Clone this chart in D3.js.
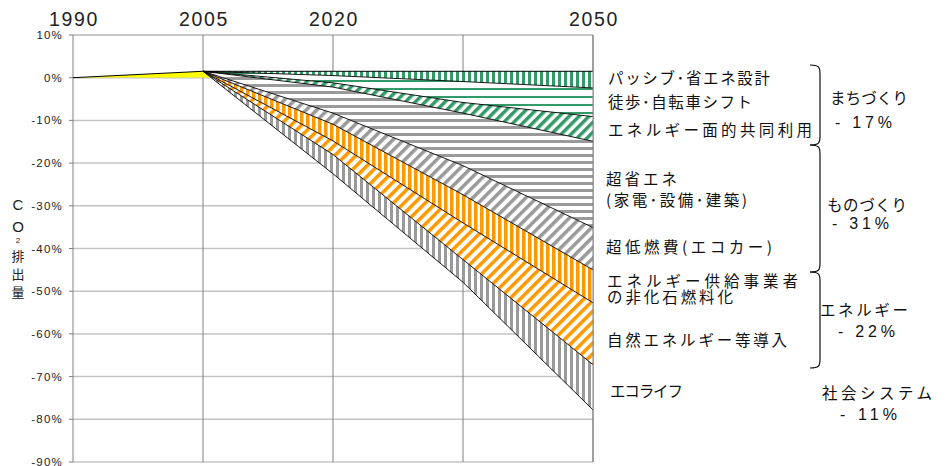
<!DOCTYPE html>
<html><head><meta charset="utf-8">
<script src="https://cdn.jsdelivr.net/npm/d3@7"></script>
<style>body{margin:0;background:#fff} svg{display:block}</style>
</head><body><svg id="c" width="946" height="466"></svg>
<script>
// ---- data (percent change of CO2 vs 1990) ----
const years = [1990, 2005, 2020, 2035, 2050];
const emissionBAU = [0, 1.5, 1.5, 1.5, 1.5];
const passive      = [0, 0, 1.0, 2.4, 3.9];
const walkBike     = [0, 0, 1.7, 4.9, 6.7];
const districtEn   = [0, 0, 1.0, 2.5, 5.8];
const superSaving  = [0, 0, 6.1, 12.3, 20.2];
const ecoCar       = [0, 0, 2.6, 6.8, 9.9];
const nonFossil    = [0, 0, 3.9, 6.6, 7.7];
const renewable    = [0, 0, 3.2, 8.6, 14.5];
const ecoLife      = [0, 0, 4.5, 5.3, 10.6];
const yTickValues = [10, 0, -10, -20, -30, -40, -50, -60, -70, -80, -90];
const xLabelYears = [1990, 2005, 2020, 2050];
const xGridYears = [1990, 2005, 2020, 2035, 2050];
const measureLabels = [
  ["パッシブ･省エネ設計"], ["徒歩･自転車シフト"], ["エネルギー面的共同利用"],
  ["超省エネ", "(家電･設備･建築)"], ["超低燃費(エコカー)"],
  ["エネルギー供給事業者", "の非化石燃料化"], ["自然エネルギー等導入"], ["エコライフ"]
];
const sectorNames = ["まちづくり", "ものづくり", "エネルギー", "社会システム"];
const sectorValues = ["- 17%", "- 31%", "- 22%", "- 11%"];

const keys = ["passive","walkBike","districtEn","superSaving","ecoCar","nonFossil","renewable","ecoLife"];
const series = {passive, walkBike, districtEn, superSaving, ecoCar, nonFossil, renewable, ecoLife};
const table = years.map((yr,i)=>{const r={year:yr, base:emissionBAU[i]}; keys.forEach(k=>r[k]=series[k][i]); return r;});

const svg = d3.select("#c");
const x = d3.scaleLinear().domain([1990,2050]).range([73,593]);
const y = d3.scaleLinear().domain([10,-90]).range([35,462]);

// patterns
const defs = svg.append("defs");
const GREEN="#339966", GRAY="#9a9a9a", ORANGE="#ff9900";
function stripe(id, color, size, w, rot){
  const p = defs.append("pattern").attr("id",id).attr("patternUnits","userSpaceOnUse")
    .attr("width",size).attr("height",size);
  if(rot!==null) p.attr("patternTransform",`rotate(${rot})`);
  p.append("rect").attr("width",size).attr("height",size).attr("fill","#fff");
  p.append("rect").attr("x",0).attr("y",0).attr("width",w).attr("height",size).attr("fill",color);
}
stripe("pVgreen", GREEN, 6, 3, 0);
stripe("pHgreen", GREEN, 8, 2, 90);
stripe("pDgreen", GREEN, 7, 3.5, 45);
stripe("pHgray", GRAY, 7, 3, 90);
stripe("pDgray", GRAY, 7.5, 3.5, 45);
stripe("pVorange", ORANGE, 6, 3.5, 0);
stripe("pDorange", ORANGE, 7.5, 3.5, 45);
stripe("pVgray", GRAY, 6, 3, 0);
const fills = ["pVgreen","pHgreen","pDgreen","pHgray","pDgray","pVorange","pDorange","pVgray"];

const SANS = "Liberation Sans, Arial, sans-serif";
const JP = "Noto Sans CJK JP, Noto Sans CJK SC, sans-serif";

// grid
const g = svg.append("g");
g.selectAll(".hg").data(yTickValues).join("line")
  .attr("x1",x(1990)).attr("x2",x(2050)).attr("y1",d=>y(d)).attr("y2",d=>y(d))
  .attr("stroke",d=>d===10?"#909090":"#c4c4c4").attr("stroke-width",d=>d===10?1:1.5);
g.selectAll(".vg").data(xGridYears).join("line")
  .attr("x1",d=>x(d)).attr("x2",d=>x(d)).attr("y1",y(10)).attr("y2",y(-90))
  .attr("stroke","#808080").attr("stroke-width",1);
// y ticks
g.selectAll(".tk").data(yTickValues).join("line")
  .attr("x1",x(1990)-4).attr("x2",x(1990)).attr("y1",d=>y(d)).attr("y2",d=>y(d)).attr("stroke","#808080");
g.selectAll(".tl").data(yTickValues).join("text")
  .attr("x",x(1990)-10).attr("y",d=>y(d)+4).attr("text-anchor","end")
  .attr("font-family",SANS).attr("font-size",11.5).attr("letter-spacing",1.2)
  .attr("fill","#222").text(d=>d+"%");
// x labels at top
g.selectAll(".xl").data(xLabelYears).join("text")
  .attr("x",d=>x(d)+1).attr("y",26).attr("text-anchor","middle")
  .attr("font-family",SANS).attr("font-size",19.5).attr("letter-spacing",1.6)
  .attr("fill","#222").text(d=>d);

// yellow area (emissions above 1990 level)
defs.append("clipPath").attr("id","above0").append("rect")
  .attr("x",x(1990)).attr("y",0).attr("width",x(2050)-x(1990)).attr("height",y(0));
const stacked = d3.stack().keys(keys)(table);
const total = table.map((r,i)=>({year:r.year, v:r.base - stacked[stacked.length-1][i][1]}));
svg.append("path").datum(total).attr("clip-path","url(#above0)")
  .attr("fill","#ffff00")
  .attr("d", d3.area().x(d=>x(d.year)).y0(y(0)).y1(d=>y(d.v)));

// wedges
stacked.forEach((s,k)=>{
  const pts = s.map((d,i)=>({year:table[i].year, top:table[i].base-d[0], bot:table[i].base-d[1]}))
    .filter(p=>p.year>=2005);
  svg.append("path").datum(pts).attr("fill",`url(#${fills[k]})`)
    .attr("d", d3.area().x(d=>x(d.year)).y0(d=>y(d.top)).y1(d=>y(d.bot)));
});
// boundary lines
const lineGen = d3.line().x(d=>x(d.year)).y(d=>y(d.v));
svg.append("path").datum(table.map(r=>({year:r.year, v:r.base})))
  .attr("fill","none").attr("stroke","#000").attr("stroke-width",1).attr("d",lineGen);
stacked.forEach(s=>{
  const pts = s.map((d,i)=>({year:table[i].year, v:table[i].base-d[1]})).filter(p=>p.year>=2005);
  svg.append("path").datum(pts).attr("fill","none").attr("stroke","#000").attr("stroke-width",0.9).attr("d",lineGen);
});
svg.append("line").attr("x1",x(2050)).attr("x2",x(2050)).attr("y1",y(10)).attr("y2",y(-90)).attr("stroke","#808080");

// y-axis title (stacked characters)
const yTitle = [["C",SANS,15],["O",SANS,15],["2",SANS,8],["排",JP,13],["出",JP,13],["量",JP,13]];
const yTitlePos = [210, 232, 243, 261, 279, 297];
yTitle.forEach((c,i)=>{
  svg.append("text").attr("x",18).attr("y",yTitlePos[i]).attr("text-anchor","middle")
    .attr("font-family",c[1]).attr("font-size",c[2]).attr("fill","#222").text(c[0]);
});

// measure labels (widths fitted to the reference layout)
const labelY = [[84],[108],[136],[185,206],[253],[287,303],[346],[397]];
const labelX = [608,608,608,606,606,607,607,610];
const labelW = [[162],[144],[204],[71,141],[166],[191,126],[180],[73]];
measureLabels.forEach((lines,i)=>{
  const t = svg.append("text").attr("font-family",JP).attr("font-size",15.5).attr("fill","#111");
  lines.forEach((s,j)=>{
    t.append("tspan").attr("x",labelX[i]).attr("y",labelY[i][j])
      .attr("textLength",labelW[i][j]).attr("lengthAdjust","spacing").text(s);
  });
});
// sector labels
const sectorX = [830, 827, 820, 822];
const sectorY = [104, 211, 316, 399];
const sectorW = [78, 80, 88, 110];
const valX = [835, 832, 838, 840];
const valY = [128, 229, 337, 420];
sectorNames.forEach((t,i)=>{
  svg.append("text").attr("x",sectorX[i]).attr("y",sectorY[i]).attr("font-family",JP)
    .attr("font-size",15.5).attr("textLength",sectorW[i]).attr("lengthAdjust","spacing")
    .attr("fill","#111").text(t);
  svg.append("text").attr("x",valX[i]).attr("y",valY[i]).attr("font-family",SANS)
    .attr("font-size",16).attr("textLength",57).attr("lengthAdjust","spacing")
    .attr("fill","#111").text(sectorValues[i]);
});
// braces
const braces = [[65,145],[145,272],[272,368]];
braces.forEach(([a,b])=>{
  const x0=810, x1=820, r=9;
  svg.append("path").attr("fill","none").attr("stroke","#111").attr("stroke-width",1.2)
    .attr("d",`M${x0},${a} C${x1-1},${a} ${x1},${a+2} ${x1},${a+r} L${x1},${b-r} C${x1},${b-2} ${x1-1},${b} ${x0},${b}`);
});
</script></body></html>
